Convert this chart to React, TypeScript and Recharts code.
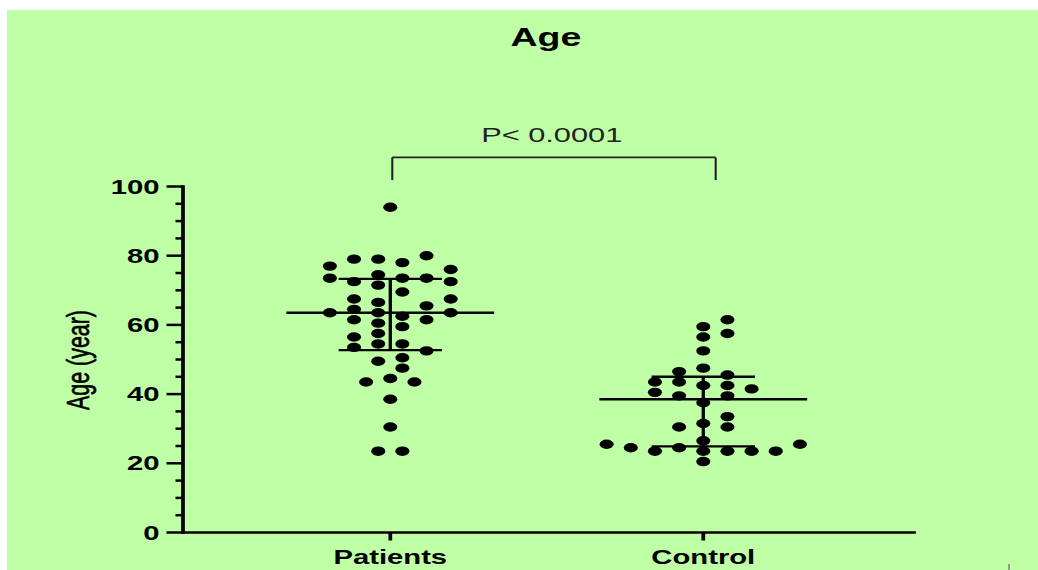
import React from 'react';
import { ScatterChart, Scatter, XAxis, YAxis, ReferenceLine, Customized } from 'recharts';

// Groups on the category axis (placed at x = 1, 2)
const groups = ['Patients', 'Control'];

// Age of each subject (years) and its lane in the dot swarm
const patientsAge = [
  94, 77, 79, 79, 78, 80, 76, 73.5, 72.5, 74.5, 71.5, 73.5, 73.5, 72.5, 69.5,
  67.5, 66.5, 65.5, 67.5, 63.5, 64.5, 63.5, 62.5, 61.5, 63.5, 61.5, 60.5, 59.5,
  56.5, 57.5, 53.5, 54.5, 54.5, 52.5, 49.5, 50.5, 47.5, 43.5, 44.5, 43.5, 38.5,
  30.5, 23.5, 23.5,
];
const patientsLane = [
  0, -5, -3, -1, 1, 3, 5, -5, -3, -1, -1, 1, 3, 5, 1, -3, -1, 3, 5, -5, -3, -1, 1,
  3, 5, -3, -1, 1, -3, -1, -3, -1, 1, 3, -1, 1, 1, -2, 0, 2, 0, 0, -1, 1,
];
const controlAge = [
  61.5, 59.5, 57.5, 56.5, 52.5, 47.5, 46.5, 45.5, 43.5, 43.5, 42.5, 42.5, 41.5,
  40.5, 39.5, 39.5, 37.5, 33.5, 31.5, 30.5, 30.5, 26.5, 25.5, 24.5, 24.5, 25.5,
  23.5, 23.5, 23.5, 23.5, 23.5, 20.5,
];
const controlLane = [
  2, 0, 2, 0, 0, 0, -2, 2, -4, -2, 0, 2, 4, -4, -2, 2, 0, 2, 0, -2, 2, 0, -8, -6,
  -2, 8, -4, 0, 2, 4, 6, 0,
];

// Median with interquartile range, per group
const groupMedian = [63.5, 38.5];
const groupQ1 = [52.7, 24.9];
const groupQ3 = [73.3, 45];

// Significance bracket between the groups
const bracketX = [1.0064, 2.0396];
const bracketTop = 108.4;
const bracketFoot = 101.85;
const pLabel = 'P< 0.0001';

const yTicks = [0, 5, 10, 15, 20, 25, 30, 35, 40, 45, 50, 55, 60, 65, 70, 75, 80, 85, 90, 95, 100];
const xTicks = [1, 2];

const FONT = '"Liberation Sans", Arial, Helvetica, sans-serif';
const STRETCH = 1.5;
const OUTER_W = 1031;
const OUTER_H = 560;
const CHART_W = OUTER_W / STRETCH;
const LANE = 0.0386;
const MEDIAN_HALF = 0.332;
const IQR_HALF = 0.165;
const MAJOR = 11;
const MINOR = 5;
const GAP = 4.7;
const AXIS_STROKE = 2.5;

const patients = patientsAge.map((age, i) => ({ x: 1 + patientsLane[i] * LANE, y: age }));
const control = controlAge.map((age, i) => ({ x: 2 + controlLane[i] * LANE, y: age }));

const Dot = (p: any) => <circle cx={p.cx} cy={p.cy} r={4.7} fill="#000" />;

function YTick(props: any) {
  const { x, y, payload } = props;
  const axisX = x + GAP + MAJOR;
  const v = payload.value;
  const major = v % 20 === 0;
  return (
    <g>
      <line
        x1={axisX - (major ? MAJOR : MINOR)}
        x2={axisX}
        y1={y}
        y2={y}
        stroke="#000"
        strokeWidth={AXIS_STROKE}
      />
      {major && (
        <text
          x={x}
          y={y}
          dy="0.36em"
          textAnchor="end"
          fontFamily={FONT}
          fontWeight={700}
          fontSize={19.5}
          fill="#000"
        >
          {v}
        </text>
      )}
    </g>
  );
}

const Titles = () => (
  <g>
    <text x={359.3} y={36} textAnchor="middle" fontFamily={FONT} fontWeight={700} fontSize={25} fill="#000">
      Age
    </text>
    <text
      transform="translate(55,350) rotate(-90)"
      textAnchor="middle"
      fontFamily={FONT}
      fontSize={21.4}
      fill="#000"
      stroke="#000"
      strokeWidth={0.45}
    >
      Age (year)
    </text>
  </g>
);

export default function App() {
  const seg = (x1: number, y1: number, x2: number, y2: number) => [
    { x: x1, y: y1 },
    { x: x2, y: y2 },
  ];
  return (
    <div
      style={{
        position: 'absolute',
        left: 7,
        top: 10,
        width: OUTER_W,
        height: OUTER_H,
        background: '#BFFFA6',
        overflow: 'hidden',
      }}
    >
      <div style={{ width: CHART_W, height: OUTER_H, transform: `scaleX(${STRETCH})`, transformOrigin: '0 0' }}>
        <ScatterChart
          width={CHART_W}
          height={OUTER_H}
          margin={{ top: 176.5, right: 82.67, bottom: 0, left: 0 }}
        >
          <XAxis
            dataKey="x"
            type="number"
            domain={[0.3377, 2.6732]}
            ticks={xTicks}
            interval={0}
            allowDataOverflow
            tickFormatter={(v: number) => groups[v - 1]}
            height={37.5}
            tickSize={8}
            tickMargin={10}
            tick={{ fill: '#000', fontSize: 19.5, fontWeight: 700, fontFamily: FONT }}
            tickLine={{ stroke: '#000', strokeWidth: AXIS_STROKE }}
            axisLine={{ stroke: '#000', strokeWidth: AXIS_STROKE, strokeLinecap: 'square' }}
          />
          <YAxis
            dataKey="y"
            type="number"
            domain={[0, 100]}
            ticks={yTicks}
            interval={0}
            width={117.33}
            tickSize={MAJOR}
            tickMargin={GAP}
            tickLine={false}
            tick={<YTick />}
            axisLine={{ stroke: '#000', strokeWidth: AXIS_STROKE, strokeLinecap: 'square' }}
          />
          <Scatter data={patients} shape={Dot} isAnimationActive={false} />
          <Scatter data={control} shape={Dot} isAnimationActive={false} />
          {groups.map((g, i) => (
            <ReferenceLine
              key={`med-${g}`}
              segment={seg(i + 1 - MEDIAN_HALF, groupMedian[i], i + 1 + MEDIAN_HALF, groupMedian[i])}
              stroke="#000"
              strokeWidth={2.4}
              ifOverflow="visible"
            />
          ))}
          {groups.map((g, i) => (
            <ReferenceLine
              key={`q3-${g}`}
              segment={seg(i + 1 - IQR_HALF, groupQ3[i], i + 1 + IQR_HALF, groupQ3[i])}
              stroke="#000"
              strokeWidth={2.4}
              ifOverflow="visible"
            />
          ))}
          {groups.map((g, i) => (
            <ReferenceLine
              key={`q1-${g}`}
              segment={seg(i + 1 - IQR_HALF, groupQ1[i], i + 1 + IQR_HALF, groupQ1[i])}
              stroke="#000"
              strokeWidth={2.4}
              ifOverflow="visible"
            />
          ))}
          {groups.map((g, i) => (
            <ReferenceLine
              key={`iqr-${g}`}
              segment={seg(i + 1, groupQ1[i], i + 1, groupQ3[i])}
              stroke="#000"
              strokeWidth={2.2}
              ifOverflow="visible"
            />
          ))}
          <ReferenceLine
            segment={seg(bracketX[0], bracketTop, bracketX[1], bracketTop)}
            stroke="#222"
            strokeWidth={1.8}
            ifOverflow="visible"
            label={{
              value: pLabel,
              position: 'top',
              offset: 15,
              fill: '#222',
              fontSize: 20.5,
              fontFamily: FONT,
              dx: -1.5,
            }}
          />
          <ReferenceLine
            segment={seg(bracketX[0], bracketFoot, bracketX[0], bracketTop)}
            stroke="#222"
            strokeWidth={1.4}
            ifOverflow="visible"
          />
          <ReferenceLine
            segment={seg(bracketX[1], bracketFoot, bracketX[1], bracketTop)}
            stroke="#222"
            strokeWidth={1.4}
            ifOverflow="visible"
          />
          <Customized component={Titles} />
        </ScatterChart>
      </div>
      <div style={{ position: 'absolute', left: 1001, top: 554, width: 2, height: 6, background: '#999' }} />
    </div>
  );
}
